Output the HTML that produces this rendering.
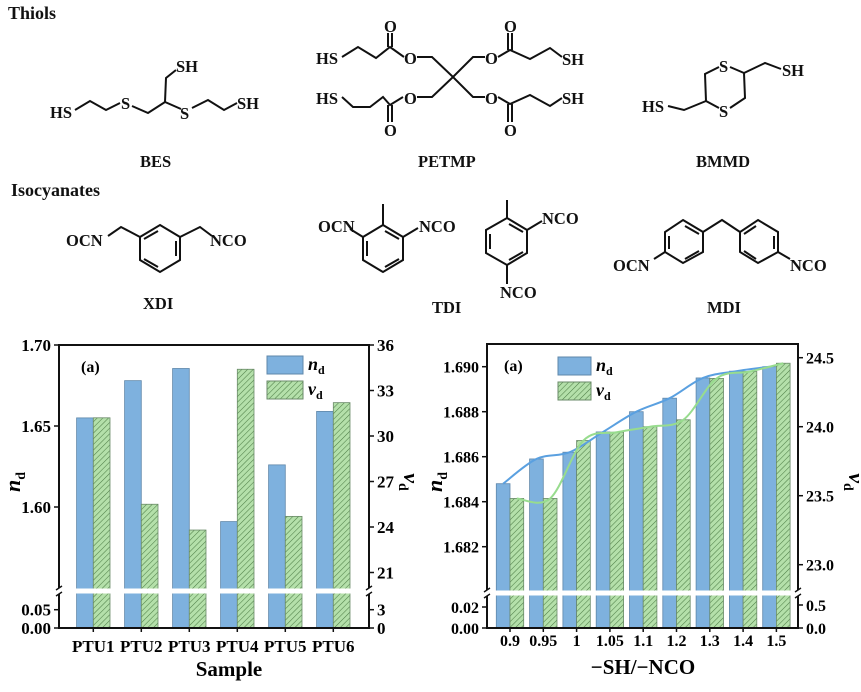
<!DOCTYPE html>
<html><head><meta charset="utf-8"><style>
html,body{margin:0;padding:0;background:#fff;}
svg, svg text, svg tspan{font-family:"Liberation Serif","DejaVu Serif","Times New Roman",serif !important;font-weight:bold;}
</style></head><body>
<svg id="fig" width="861" height="687" viewBox="0 0 861 687" font-family="Liberation Serif, DejaVu Serif, serif">
<defs>
<pattern id="hatch" width="4" height="4" patternUnits="userSpaceOnUse" patternTransform="rotate(45)">
<rect width="4" height="4" fill="#b4e0aa"/><line x1="0" y1="0" x2="0" y2="4" stroke="#4f7f48" stroke-width="1.1"/>
</pattern>
</defs>
<g stroke="#111" stroke-width="2" fill="none">
<polyline points="75,110 90,101 106,110 120,103"/>
<polyline points="132,106 148,113 165,102 181,109"/>
<polyline points="165,102 166,78 176,70"/>
<polyline points="192,108 208,100 224,110 237,103"/>
<polyline points="342,57 358,47 376,58 390,47 404,57"/>
<line x1="388" y1="47" x2="388" y2="33"/><line x1="392" y1="47" x2="392" y2="33"/>
<polyline points="342,97 353,107 370,107 383,97 390,105 403,97"/>
<line x1="388" y1="105" x2="388" y2="122"/><line x1="392" y1="105" x2="392" y2="122"/>
<polyline points="417,57 432,57 453,77 473,57 485,57"/>
<polyline points="417,97 432,97 453,77 473,97 485,97"/>
<polyline points="498,57 510,50 530,59 550,48 562,57"/>
<line x1="508" y1="50" x2="508" y2="33"/><line x1="512" y1="50" x2="512" y2="33"/>
<polyline points="498,97 510,104 530,95 550,106 562,98"/>
<line x1="508" y1="104" x2="508" y2="122"/><line x1="512" y1="104" x2="512" y2="122"/>
<polyline points="719,67 705,74 706,101 719,108"/>
<polyline points="730,67 744,73 745,98 730,108"/>
<polyline points="744,73 765,63 781,69"/>
<polyline points="706,101 684,110 668,106"/>
<polygon points="160,225 180,237 180,260 160,272 140,260 140,237"/>
<line x1="176" y1="241" x2="176" y2="256"/><line x1="158" y1="267" x2="144" y2="259"/><line x1="144" y1="239" x2="158" y2="231"/>
<polyline points="140,237 121,227 108,236"/><polyline points="180,237 200,227 212,236"/>
<polygon points="383,225 403,237 403,260 383,272 363,260 363,237"/>
<line x1="367" y1="241" x2="367" y2="256"/><line x1="385" y1="267" x2="399" y2="259"/><line x1="399" y1="239" x2="385" y2="231"/>
<line x1="383" y1="225" x2="383" y2="204"/><line x1="363" y1="237" x2="350" y2="229"/><line x1="403" y1="237" x2="418" y2="228"/>
<polygon points="507,218 527,230 527,253 507,265 486,253 486,230"/>
<line x1="490" y1="234" x2="490" y2="249"/><line x1="509" y1="260" x2="523" y2="252"/><line x1="523" y1="232" x2="509" y2="224"/>
<line x1="507" y1="218" x2="507" y2="200"/><line x1="527" y1="230" x2="542" y2="221"/><line x1="507" y1="265" x2="507" y2="284"/>
<polygon points="683,220 703,232 703,252 683,263 665,252 665,232"/>
<line x1="669" y1="236" x2="669" y2="249"/><line x1="685" y1="259" x2="699" y2="251"/><line x1="699" y1="234" x2="685" y2="226"/>
<polygon points="758,220 778,232 778,252 758,263 740,252 740,232"/>
<line x1="774" y1="236" x2="774" y2="249"/><line x1="756" y1="259" x2="744" y2="251"/><line x1="744" y1="234" x2="756" y2="226"/>
<polyline points="703,232 722,220 740,232"/><line x1="665" y1="252" x2="654" y2="259"/><line x1="778" y1="252" x2="790" y2="259"/>
</g>
<g font-size="16.5" fill="#111">
<text x="8" y="19" font-size="18">Thiols</text>
<text x="50" y="118">HS</text><text x="121" y="109">S</text><text x="176" y="72">SH</text><text x="180" y="119">S</text><text x="237" y="109">SH</text>
<text x="140" y="167">BES</text>
<text x="316" y="64">HS</text><text x="316" y="104">HS</text><text x="384" y="32">O</text><text x="384" y="136">O</text>
<text x="404" y="64">O</text><text x="404" y="104">O</text><text x="485" y="64">O</text><text x="485" y="104">O</text>
<text x="504" y="32">O</text><text x="504" y="136">O</text><text x="562" y="65">SH</text><text x="562" y="104">SH</text>
<text x="418" y="167">PETMP</text>
<text x="719" y="72">S</text><text x="719" y="117">S</text><text x="782" y="76">SH</text><text x="642" y="112">HS</text>
<text x="696" y="167">BMMD</text>
<text x="11" y="196" font-size="18">Isocyanates</text>
<text x="66" y="246">OCN</text><text x="210" y="246">NCO</text><text x="143" y="309">XDI</text>
<text x="318" y="232">OCN</text><text x="419" y="232">NCO</text><text x="432" y="313">TDI</text>
<text x="542" y="224">NCO</text><text x="500" y="298">NCO</text>
<text x="613" y="271">OCN</text><text x="790" y="271">NCO</text><text x="707" y="313">MDI</text>
</g>
<g id="c1"></g>
<g id="c2"></g>
</svg>
<script>
const samples=["PTU1","PTU2","PTU3","PTU4","PTU5","PTU6"];
const sampleNd=[1.655,1.678,1.6855,1.591,1.626,1.659];
const sampleVd=[31.2,25.5,23.8,34.4,24.7,32.2];
const ratios=["0.9","0.95","1","1.05","1.1","1.2","1.3","1.4","1.5"];
const ratioNd=[1.6848,1.6859,1.6862,1.6871,1.6880,1.6886,1.6895,1.6898,1.6900];
const ratioVd=[23.48,23.48,23.90,23.96,24.00,24.05,24.35,24.40,24.46];
const c1LeftTicks=["1.70","1.65","1.60"],c1LeftLow=["0.05","0.00"];
const c1RightTicks=["36","33","30","27","24","21"],c1RightLow=["3","0"];
const c2LeftTicks=["1.690","1.688","1.686","1.684","1.682"],c2LeftLow=["0.02","0.00"];
const c2RightTicks=["24.5","24.0","23.5","23.0"],c2RightLow=["0.5","0.0"];
const NS="http://www.w3.org/2000/svg";
function mk(p,t,a,txt){const e=document.createElementNS(NS,t);for(const k in a)e.setAttribute(k,a[k]);if(txt!==undefined)e.textContent=txt;p.appendChild(e);return e;}
function chart(g,o){
  const L=o.left,R=o.right,T=o.top,B=o.bottom;
  const yl=v=>v>=o.lBreakV?o.lTopY+(o.lTop-v)/o.lStep*o.lStepPx:B-v/o.lLowStep*o.lLowPx;
  const yr=v=>v>=o.rBreakV?o.rTopY+(o.rTop-v)/o.rStep*o.rStepPx:B-v/o.rLowStep*o.rLowPx;
  const xc=i=>o.x0+i*o.dx;
  o.cats.forEach((c,i)=>{
    const b=mk(g,'rect',{x:xc(i)-o.bw,y:yl(o.nd[i]),width:o.bw,height:B-yl(o.nd[i]),fill:'#7eb1de',stroke:'#5f87aa','stroke-width':0.8});
    
    
    const h=mk(g,'rect',{x:xc(i),y:yr(o.vd[i]),width:o.bw,height:B-yr(o.vd[i]),fill:'url(#hatch)',stroke:'#6a8a68','stroke-width':0.8});
    
    
    const t=mk(g,'text',{x:xc(i),y:o.xLabY,'text-anchor':'middle','font-size':o.xfs},c);
    
    
    mk(g,'line',{x1:xc(i),x2:xc(i),y1:B,y2:B+4,stroke:'#111','stroke-width':1.5});
  });
  if(o.lines){
    const spline=(pts)=>{let d='M'+pts[0][0]+','+pts[0][1];for(let i=0;i<pts.length-1;i++){const p0=pts[Math.max(0,i-1)],p1=pts[i],p2=pts[i+1],p3=pts[Math.min(pts.length-1,i+2)];d+=' C'+(p1[0]+(p2[0]-p0[0])/6)+','+(p1[1]+(p2[1]-p0[1])/6)+' '+(p2[0]-(p3[0]-p1[0])/6)+','+(p2[1]-(p3[1]-p1[1])/6)+' '+p2[0]+','+p2[1];}return d;};
    const lb=mk(g,'path',{d:spline(o.nd.map((v,i)=>[xc(i)-o.bw/2,yl(v)])),fill:'none',stroke:'#5aa0e0','stroke-width':2});
    
    
    const lg=mk(g,'path',{d:spline(o.vd.map((v,i)=>[xc(i)+o.bw/2,yr(v)])),fill:'none',stroke:'#98dc8e','stroke-width':2});
    
    
  }
  mk(g,'rect',{x:L+1,y:o.brk-2.5,width:R-L-2,height:5,fill:'#fff'});
  const ax=mk(g,'path',{d:`M${L},${o.brk-3}V${T}H${R}V${o.brk-3}M${L},${o.brk+3}V${B}H${R}V${o.brk+3}`,fill:'none',stroke:'#111','stroke-width':2});
  
  
  [L,R].forEach(x=>{mk(g,'path',{d:`M${x-3},${o.brk-1}l6,-4M${x-3},${o.brk+5}l6,-4`,stroke:'#111','stroke-width':1.4,fill:'none'});});
  const tl=(labels,vals,f,x,anchor,dir)=>labels.forEach((s,i)=>{const y=f(vals[i]);mk(g,'line',{x1:x,x2:x+dir*5,y1:y,y2:y,stroke:'#111','stroke-width':1.5});
    const t=mk(g,'text',{x:x+dir*8,y:y+6,'text-anchor':anchor,'font-size':o.tfs},s);
    
    });
  tl(o.lt,o.lt.map(Number),yl,L,'end',-1);tl(o.ltl,o.ltl.map(Number),yl,L,'end',-1);
  tl(o.rt,o.rt.map(Number),yr,R,'start',1);tl(o.rtl,o.rtl.map(Number),yr,R,'start',1);
  const a=mk(g,'text',{x:o.aX,y:T+27,'font-size':16},'(a)');
  
  
  const l1=mk(g,'rect',{x:o.legX,y:o.legY,width:o.legW,height:18,fill:'#7eb1de',stroke:'#5f87aa'});
  
  
  const l2=mk(g,'rect',{x:o.legX,y:o.legY+25,width:o.legW,height:18,fill:'url(#hatch)',stroke:'#6a8a68'});
  
  
  const t1=mk(g,'text',{x:o.legX+o.legW+5,y:o.legY+14,'font-size':18});
  t1.innerHTML='<tspan font-style="italic">n</tspan><tspan font-size="12" dy="4">d</tspan>';
  
  
  const t2=mk(g,'text',{x:o.legX+o.legW+5,y:o.legY+39,'font-size':18});
  t2.innerHTML='<tspan font-style="italic">v</tspan><tspan font-size="12" dy="4">d</tspan>';
  
  
  const yt=mk(g,'text',{x:0,y:0,'font-size':22,transform:`translate(${o.ytX},${o.ytY}) rotate(-90)`,'text-anchor':'middle'});
  yt.innerHTML='<tspan font-style="italic">n</tspan><tspan font-size="14" dy="5">d</tspan>';
  
  
  const yt2=mk(g,'text',{x:0,y:0,'font-size':22,transform:`translate(${o.yt2X},${o.ytY}) rotate(90)`,'text-anchor':'middle'});
  yt2.innerHTML='<tspan font-style="italic">v</tspan><tspan font-size="14" dy="5">d</tspan>';
  
  
  const xt=mk(g,'text',{x:o.xtX,y:o.xtY,'text-anchor':'middle','font-size':21},o.xTitle);
  
  
}
chart(document.getElementById('c1'),{left:59,right:369,top:345,bottom:628,brk:591,
  lTop:1.70,lTopY:345,lStep:0.05,lStepPx:81,lBreakV:1.547,lLowStep:0.05,lLowPx:18.3,
  rTop:36,rTopY:345,rStep:3,rStepPx:45.5,rBreakV:20,rLowStep:3,rLowPx:18.3,
  cats:samples,nd:sampleNd,vd:sampleVd,x0:93.3,dx:48,bw:16.7,xLabY:652,xfs:17,tfs:17,
  lt:c1LeftTicks,ltl:c1LeftLow,rt:c1RightTicks,rtl:c1RightLow,aX:81,
  legX:267,legY:356,legW:36,ytX:20,ytY:482,yt2X:404,xtX:229,xtY:676,xTitle:"Sample",lines:false});
chart(document.getElementById('c2'),{left:487,right:798,top:344,bottom:628,brk:593,
  lTop:1.690,lTopY:366.7,lStep:0.002,lStepPx:45,lBreakV:1.6799,lLowStep:0.02,lLowPx:21,
  rTop:24.5,rTopY:357.7,rStep:0.5,rStepPx:69,rBreakV:22.8,rLowStep:0.5,rLowPx:23,
  cats:ratios,nd:ratioNd,vd:ratioVd,x0:510,dx:33.3,bw:13.7,xLabY:646,xfs:16,tfs:16,
  lt:c2LeftTicks,ltl:c2LeftLow,rt:c2RightTicks,rtl:c2RightLow,aX:504,
  legX:558,legY:357,legW:33,ytX:442,ytY:482,yt2X:849,xtX:643,xtY:674,xTitle:"\u2212SH/\u2212NCO",lines:true});
</script>
</body></html>
